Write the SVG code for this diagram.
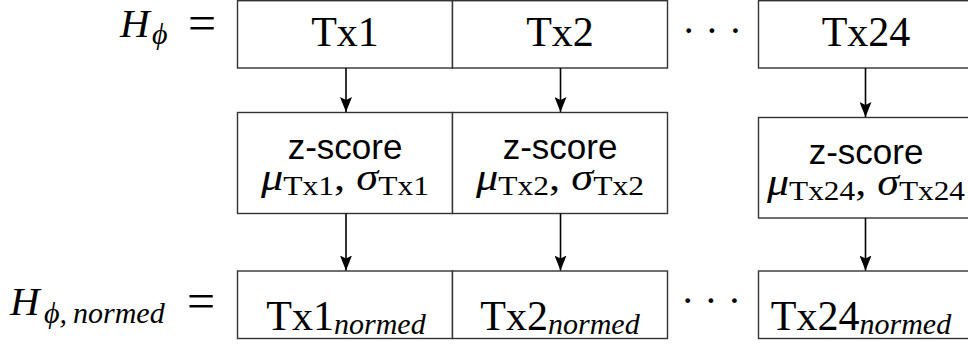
<svg xmlns="http://www.w3.org/2000/svg" width="968" height="344" viewBox="0 0 968 344">
  <style>
    .box { fill: #ffffff; stroke: #333333; stroke-width: 1.4; }
    .edge { fill: none; stroke: #000000; stroke-width: 1.6; }
    .rm { font-family: "Liberation Serif", "DejaVu Serif", serif; fill: #000; }
    .it { font-family: "Liberation Serif", "DejaVu Serif", serif; font-style: italic; fill: #000; }
    .sans { font-family: "Liberation Sans", Arial, sans-serif; fill: #000; }
    .big { font-size: 42px; }
    .sub { font-size: 30px; }
    .zs { font-size: 35px; }
    .mu { font-size: 38px; }
    .msub { font-size: 27px; }
  </style>
  <defs>
    <marker id="arrow" markerUnits="userSpaceOnUse" viewBox="0 0 12 15" refX="6" refY="15" markerWidth="12" markerHeight="15" orient="0">
      <path d="M0,0 L6,3 L12,0 L6,15 z" fill="#000"/>
    </marker>
  </defs>

  <!-- row labels -->
  <g id="label-h">
    <text x="120" y="37" class="it" font-size="41">H</text>
    <text x="152" y="44" class="it sub">ϕ</text>
    <text x="188" y="40" class="rm" font-size="50">=</text>
  </g>
  <g id="label-hnormed">
    <text x="10" y="315" class="it" font-size="41">H</text>
    <text x="44" y="323" class="it sub">ϕ,</text>
    <text x="73" y="323" class="it sub">normed</text>
    <text x="187" y="318" class="rm" font-size="50">=</text>
  </g>

  <!-- input row -->
  <g id="tx1">
    <rect class="box" x="237.5" y="0.7" width="215" height="67.3"/>
    <text x="345" y="46" class="rm big" text-anchor="middle">Tx1</text>
  </g>
  <g id="tx2">
    <rect class="box" x="452.5" y="0.7" width="215" height="67.3"/>
    <text x="560" y="46" class="rm big" text-anchor="middle">Tx2</text>
  </g>
  <g id="dots-top">
    <text x="717" y="44" class="rm" font-size="40" text-anchor="middle" letter-spacing="10">···</text>
  </g>
  <g id="tx24">
    <rect class="box" x="758.5" y="0.7" width="215" height="67.3"/>
    <text x="866" y="46" class="rm big" text-anchor="middle">Tx24</text>
  </g>

  <!-- z-score row -->
  <g id="zscore1">
    <rect class="box" x="237.5" y="112.5" width="215" height="101"/>
    <text x="345" y="159" class="sans zs" text-anchor="middle">z-score</text>
    <text x="345" y="190" text-anchor="middle" textLength="168" lengthAdjust="spacingAndGlyphs"><tspan class="it mu">μ</tspan><tspan class="rm msub" dy="5">Tx1</tspan><tspan class="rm mu" dy="-5">, </tspan><tspan class="it mu">σ</tspan><tspan class="rm msub" dy="5">Tx1</tspan></text>
  </g>
  <g id="zscore2">
    <rect class="box" x="452.5" y="112.5" width="215" height="101"/>
    <text x="560" y="159" class="sans zs" text-anchor="middle">z-score</text>
    <text x="560" y="190" text-anchor="middle" textLength="168" lengthAdjust="spacingAndGlyphs"><tspan class="it mu">μ</tspan><tspan class="rm msub" dy="5">Tx2</tspan><tspan class="rm mu" dy="-5">, </tspan><tspan class="it mu">σ</tspan><tspan class="rm msub" dy="5">Tx2</tspan></text>
  </g>
  <g id="zscore24">
    <rect class="box" x="758.5" y="117.5" width="215" height="100.5"/>
    <text x="866" y="164" class="sans zs" text-anchor="middle">z-score</text>
    <text x="866" y="195" text-anchor="middle" textLength="198" lengthAdjust="spacingAndGlyphs"><tspan class="it mu">μ</tspan><tspan class="rm msub" dy="5">Tx24</tspan><tspan class="rm mu" dy="-5">, </tspan><tspan class="it mu">σ</tspan><tspan class="rm msub" dy="5">Tx24</tspan></text>
  </g>

  <!-- normalised row -->
  <g id="tx1-normed">
    <rect class="box" x="237.5" y="271" width="215" height="67.5"/>
    <text x="346" y="330" text-anchor="middle"><tspan class="rm big">Tx1</tspan><tspan class="it sub" dy="4">normed</tspan></text>
  </g>
  <g id="tx2-normed">
    <rect class="box" x="452.5" y="271" width="215" height="67.5"/>
    <text x="560" y="330" text-anchor="middle"><tspan class="rm big">Tx2</tspan><tspan class="it sub" dy="4">normed</tspan></text>
  </g>
  <g id="dots-bottom">
    <text x="716" y="314" class="rm" font-size="40" text-anchor="middle" letter-spacing="10">···</text>
  </g>
  <g id="tx24-normed">
    <rect class="box" x="758.5" y="271" width="215" height="67.5"/>
    <text x="861" y="330" text-anchor="middle"><tspan class="rm big">Tx24</tspan><tspan class="it sub" dy="4">normed</tspan></text>
  </g>

  <!-- connectors -->
  <g id="connectors">
    <path class="edge" d="M346,68 V112" marker-end="url(#arrow)"/>
    <path class="edge" d="M560.5,68 V112" marker-end="url(#arrow)"/>
    <path class="edge" d="M865.5,68 V117" marker-end="url(#arrow)"/>
    <path class="edge" d="M346,213.5 V270.5" marker-end="url(#arrow)"/>
    <path class="edge" d="M560.5,213.5 V270.5" marker-end="url(#arrow)"/>
    <path class="edge" d="M865.5,218 V270.5" marker-end="url(#arrow)"/>
  </g>
</svg>
